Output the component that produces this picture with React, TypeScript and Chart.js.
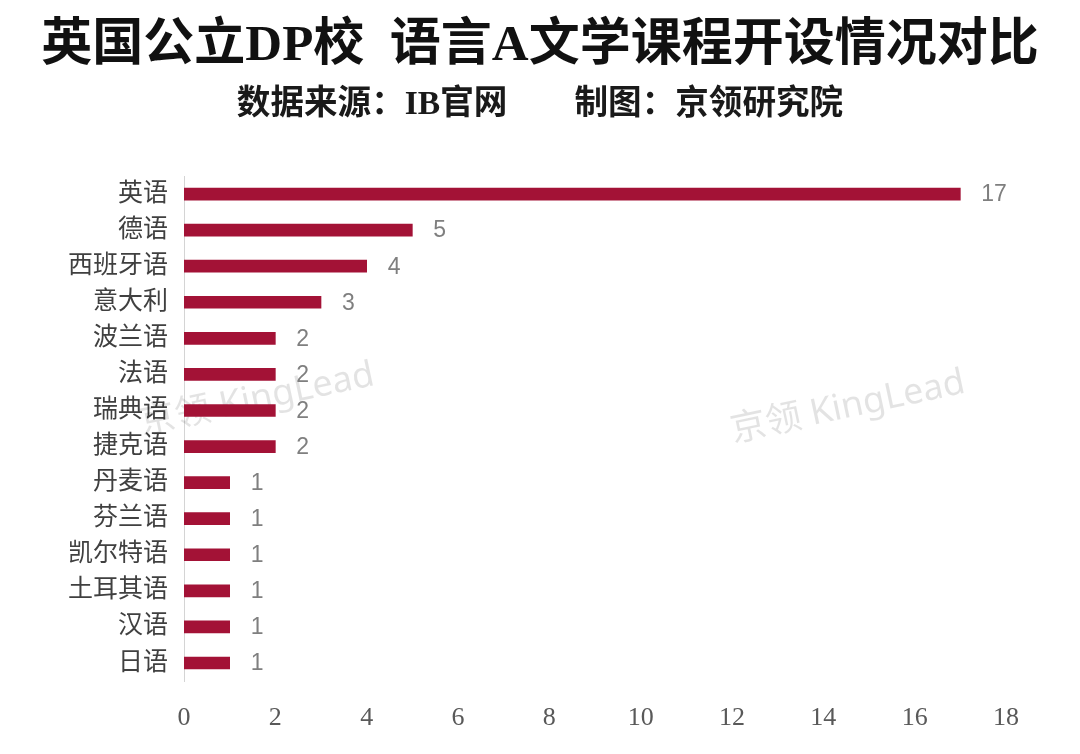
import React, { useEffect, useRef } from "react";
import { Chart, registerables } from "chart.js";

Chart.register(...registerables);

const TITLE = "英国公立DP校  语言A文学课程开设情况对比";
const SUBTITLE = "数据来源：IB官网　　制图：京领研究院";
const categories = [
  "英语", "德语", "西班牙语", "意大利", "波兰语", "法语", "瑞典语",
  "捷克语", "丹麦语", "芬兰语", "凯尔特语", "土耳其语", "汉语", "日语",
];
const counts = [17, 5, 4, 3, 2, 2, 2, 2, 1, 1, 1, 1, 1, 1];
const xTicks = [0, 2, 4, 6, 8, 10, 12, 14, 16, 18];
const WATERMARK = "京领 KingLead";

const BAR_COLOR = "#a31236";
const CJK = '"Noto Sans CJK SC"';

const watermarkPlugin = {
  id: "watermark",
  beforeDatasetsDraw(chart: any) {
    const ctx = chart.ctx;
    const spots = [
      [0.238, 0.53],
      [0.785, 0.54],
    ];
    ctx.save();
    ctx.fillStyle = "rgba(0,0,0,0.11)";
    ctx.font = `36px "Noto Sans", ${CJK}, sans-serif`;
    ctx.textAlign = "center";
    ctx.textBaseline = "middle";
    for (const [fx, fy] of spots) {
      ctx.save();
      ctx.translate(chart.width * fx, chart.height * fy);
      ctx.rotate((-12 * Math.PI) / 180);
      ctx.fillText(WATERMARK, 0, 0);
      ctx.restore();
    }
    ctx.restore();
  },
};

const valueLabelPlugin = {
  id: "valueLabels",
  afterDatasetsDraw(chart: any) {
    const ctx = chart.ctx;
    const meta = chart.getDatasetMeta(0);
    ctx.save();
    ctx.fillStyle = "#7f7f7f";
    ctx.font = '23px "Liberation Sans", Arial, sans-serif';
    ctx.textAlign = "left";
    ctx.textBaseline = "middle";
    meta.data.forEach((bar: any, i: number) => {
      ctx.fillText(String(counts[i]), bar.x + 21, bar.y + 1);
    });
    ctx.restore();
  },
};

export default function App() {
  const ref = useRef<HTMLCanvasElement | null>(null);

  useEffect(() => {
    if (!ref.current) return;
    const chart = new Chart(ref.current, {
      type: "bar",
      data: {
        labels: categories,
        datasets: [
          {
            data: counts,
            backgroundColor: BAR_COLOR,
            borderWidth: 0,
            barThickness: 12,
          },
        ],
      },
      options: {
        indexAxis: "y",
        responsive: false,
        animation: false,
        devicePixelRatio: 1,
        layout: { padding: { left: 0, right: 0, top: 0, bottom: 0 } },
        plugins: {
          legend: { display: false },
          tooltip: { enabled: false },
          title: {
            display: true,
            text: TITLE,
            color: "#111111",
            font: { family: `"Liberation Serif", ${CJK}, serif`, size: 51, weight: "bold", lineHeight: 1.2 },
            padding: { top: 16, bottom: 8 },
          },
          subtitle: {
            display: true,
            text: SUBTITLE,
            color: "#1a1a1a",
            font: { family: `"Liberation Serif", ${CJK}, serif`, size: 33.6, weight: "bold", lineHeight: 1.2 },
            padding: { top: 0, bottom: 50.5 },
          },
        },
        scales: {
          x: {
            type: "linear",
            min: 0,
            max: 18,
            afterBuildTicks: (scale: any) => {
              scale.ticks = xTicks.map((v) => ({ value: v }));
            },
            afterFit: (scale: any) => {
              scale.height = 73;
            },
            grid: { display: false },
            border: { display: false },
            ticks: {
              color: "#595959",
              padding: 14,
              font: { family: '"Liberation Serif", serif', size: 26 },
            },
          },
          y: {
            type: "category",
            afterFit: (scale: any) => {
              scale.width = 184;
            },
            grid: { display: false },
            border: { display: true, color: "#d4d4d4", width: 1 },
            ticks: {
              color: "#404040",
              padding: 8,
              font: { family: `"Liberation Serif", ${CJK}, serif`, size: 25 },
            },
          },
          yRight: {
            type: "category",
            position: "right",
            display: true,
            afterFit: (scale: any) => {
              scale.width = 74;
            },
            grid: { display: false },
            border: { display: false },
            ticks: { display: false },
          },
        },
      },
      plugins: [watermarkPlugin, valueLabelPlugin],
    } as any);
    return () => chart.destroy();
  }, []);

  return (
    <div style={{ position: "absolute", left: 0, top: 0, width: 1080, height: 754, background: "#ffffff" }}>
      <canvas ref={ref} width={1080} height={754} />
    </div>
  );
}
